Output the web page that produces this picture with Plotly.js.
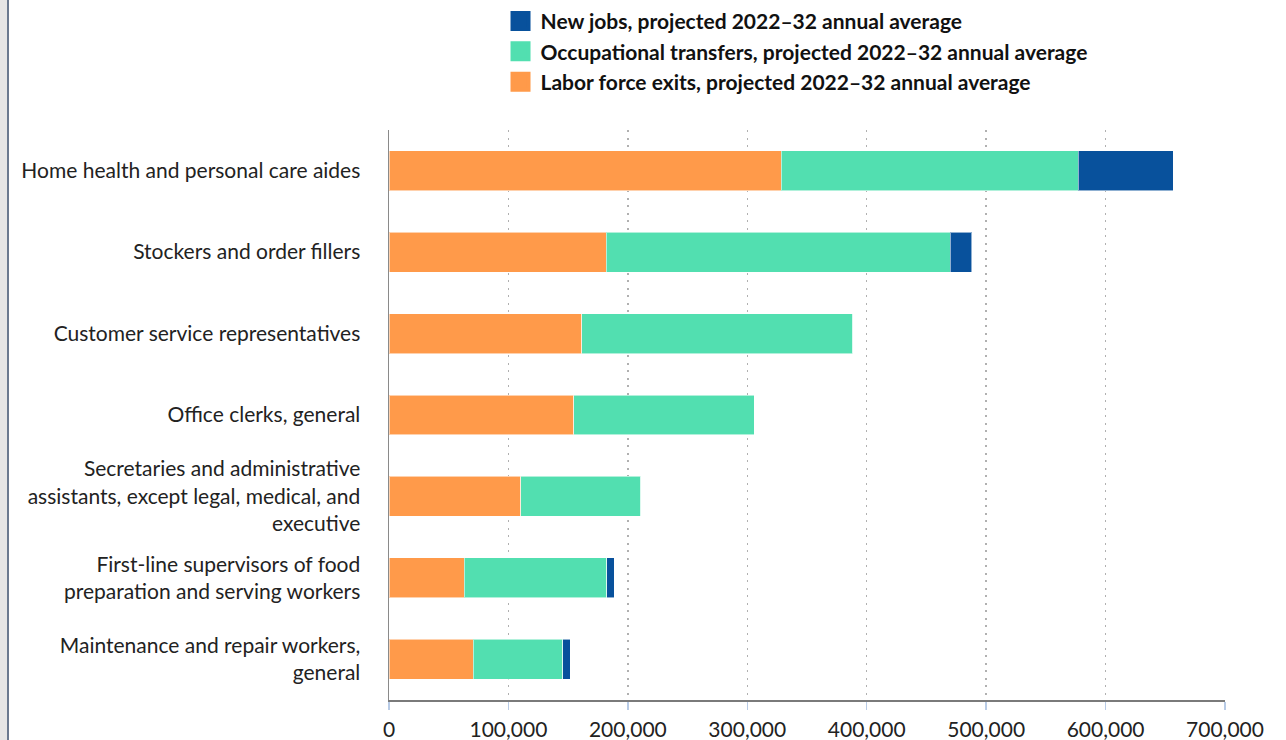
<!DOCTYPE html>
<html>
<head>
<meta charset="utf-8">
<script src="https://cdn.plot.ly/plotly-3.0.1.min.js"></script>
<style>
  html, body { margin: 0; padding: 0; background: #ffffff; }
  #wrap { position: relative; width: 1286px; height: 740px; overflow: hidden; }
  #chart { position: absolute; left: 0; top: 0; width: 1286px; height: 740px; }
  #strip { position: absolute; left: 0; top: 0; width: 7px; height: 740px; background: #e6e6e6; border-right: 2px solid #6b7a90; z-index: 5; }
</style>
</head>
<body>
<div id="wrap">
  <div id="chart"></div>
  <div id="strip"></div>
</div>
<script>
const categories = [
  "Home health and personal care aides",
  "Stockers and order fillers",
  "Customer service representatives",
  "Office clerks, general",
  "Secretaries and administrative<br>assistants, except legal, medical, and<br>executive",
  "First-line supervisors of food<br>preparation and serving workers",
  "Maintenance and repair workers,<br>general"
];
const laborForceExits = [328300, 181700, 161200, 154800, 110500, 62800, 70600];
const occupationalTransfers = [248700, 288100, 227300, 151200, 100100, 119500, 74900];
const newJobs = [79600, 18100, 0, 0, 0, 6100, 6400];

const seriesNames = [
  "New jobs, projected 2022–32 annual average",
  "Occupational transfers, projected 2022–32 annual average",
  "Labor force exits, projected 2022–32 annual average"
];
const xTicks = [0, 100000, 200000, 300000, 400000, 500000, 600000, 700000];

const cBlue = "#08519c";
const cTeal = "#52dfb0";
const cOrange = "#ff9a4a";
const barLine = { color: "rgba(255,255,255,0.55)", width: 1 };

function barTrace(vals, name, color) {
  return {
    type: "bar", orientation: "h", y: categories, x: vals, name: name,
    marker: { color: color, line: barLine }, showlegend: false,
    hoverinfo: "x+name"
  };
}
function legendTrace(name, color, grp) {
  return {
    type: "scatter", mode: "markers", x: [null], y: [null], name: name,
    legendgroup: grp, showlegend: true,
    marker: { symbol: "square", size: 22, color: color, line: { color: color, width: 4 } }
  };
}

const data = [
  barTrace(laborForceExits, seriesNames[2], cOrange),
  barTrace(occupationalTransfers, seriesNames[1], cTeal),
  barTrace(newJobs, seriesNames[0], cBlue),
  legendTrace(seriesNames[0], cBlue, "a"),
  legendTrace(seriesNames[1], cTeal, "b"),
  legendTrace(seriesNames[2], cOrange, "c")
];

const layout = {
  width: 1286, height: 740,
  margin: { l: 389, r: 61, t: 130, b: 40, autoexpand: false },
  paper_bgcolor: "#ffffff", plot_bgcolor: "#ffffff",
  barmode: "stack", bargap: 0.51,
  font: { family: "Lato, 'Open Sans', sans-serif", size: 21, color: "#222222" },
  showlegend: true,
  legend: {
    x: 0.1334, y: 1.2265, xanchor: "left", yanchor: "top",
    orientation: "v", traceorder: "grouped", tracegroupgap: 0,
    bgcolor: "rgba(0,0,0,0)", borderwidth: 0,
    font: { family: "Lato, 'Open Sans', sans-serif", size: 21, color: "#111111", weight: "bold" }
  },
  xaxis: {
    range: [0, 700000], tickvals: xTicks, tickformat: ",",
    showgrid: true, gridcolor: "#b0b0b0", gridwidth: 1.5, griddash: "2px,5.5px",
    zeroline: false, showline: true, linecolor: "#7a7a7a", linewidth: 2,
    ticks: "outside", ticklen: 8, tickcolor: "#b8cbe6", tickwidth: 1.5,
    ticklabelstandoff: 2,
    tickfont: { size: 21, color: "#222222" }, fixedrange: true
  },
  yaxis: {
    type: "category", autorange: "reversed",
    showgrid: false, zeroline: false, showline: true, linecolor: "#8a8a8a", linewidth: 1.5,
    ticks: "", ticklabelstandoff: 23,
    tickfont: { size: 21, color: "#222222" }, fixedrange: true
  }
};

Plotly.newPlot("chart", data, layout, { displayModeBar: false, staticPlot: true });
</script>
</body>
</html>
